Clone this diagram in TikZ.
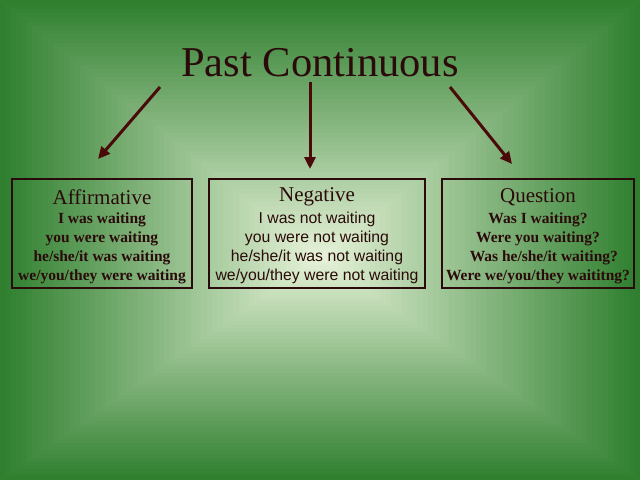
\documentclass[tikz,border=0pt]{standalone}
\usepackage{fontspec}
\setmainfont{Liberation Serif}
\newfontfamily\sansf{Liberation Sans}
\usetikzlibrary{arrows.meta}
\definecolor{edgeg}{HTML}{2F7F2F}
\definecolor{centg}{HTML}{E4F1D6}
\definecolor{ink}{HTML}{2A0A0A}
\definecolor{arr}{HTML}{4A0A0A}
\tikzset{
  box/.style={draw=ink,line width=1.6pt,minimum width=#1,minimum height=109pt,inner sep=0pt},
  head/.style={font=\fontsize{21}{23}\selectfont,text=ink},
  lines/.style={font=\bfseries\fontsize{15.5}{19}\selectfont,text=ink,align=center},
  slines/.style={font=\sansf\fontsize{15.8}{19}\selectfont,text=ink,align=center},
  arrw/.style={draw=arr,line width=3pt,-{Triangle[length=12pt,width=11pt]}}
}
\begin{document}
\begin{tikzpicture}[x=1pt,y=-1pt]
\useasboundingbox (0,0) rectangle (640,480);
\foreach \i in {0,...,59}{
  \pgfmathsetmacro{\p}{\i*1.7}
  \fill[centg!\p!edgeg] (\i*5.3,\i*4.3) rectangle (640-\i*5.3,480-\i*3.7);
}
\node[font=\fontsize{42.5}{44}\selectfont,text=ink] (title) at (320,63) {Past Continuous};
\node[box=180pt] (aff) at (102,233.5) {};
\node[box=216pt] (neg) at (317,233.5) {};
\node[box=192pt] (que) at (538,233.5) {};
\node[head] (ah) at (102,197) {Affirmative};
\node[head] (nh) at (317,197) {Negative};
\node[head] (qh) at (538,197) {Question};
\node[lines,anchor=north] (al) at (102,209) {I was waiting\\you were waiting\\he/she/it was waiting\\we/you/they were waiting};
\node[slines,anchor=north] (nl) at (317,209) {I was not waiting\\you were not waiting\\he/she/it was not waiting\\we/you/they were not waiting};
\node[lines,anchor=north] (ql) at (538,209) {Was I waiting?\\Were you waiting?\\\ \ \ Was he/she/it waiting?\\Were we/you/they waititng?};
\coordinate (a1) at (160,87); \coordinate (a2) at (98,159);
\coordinate (b1) at (310,82); \coordinate (b2) at (310,169);
\coordinate (c1) at (450,87); \coordinate (c2) at (512,164);
\draw[arrw] (a1) -- (a2);
\draw[arrw] (b1) -- (b2);
\draw[arrw] (c1) -- (c2);
\end{tikzpicture}
\end{document}
